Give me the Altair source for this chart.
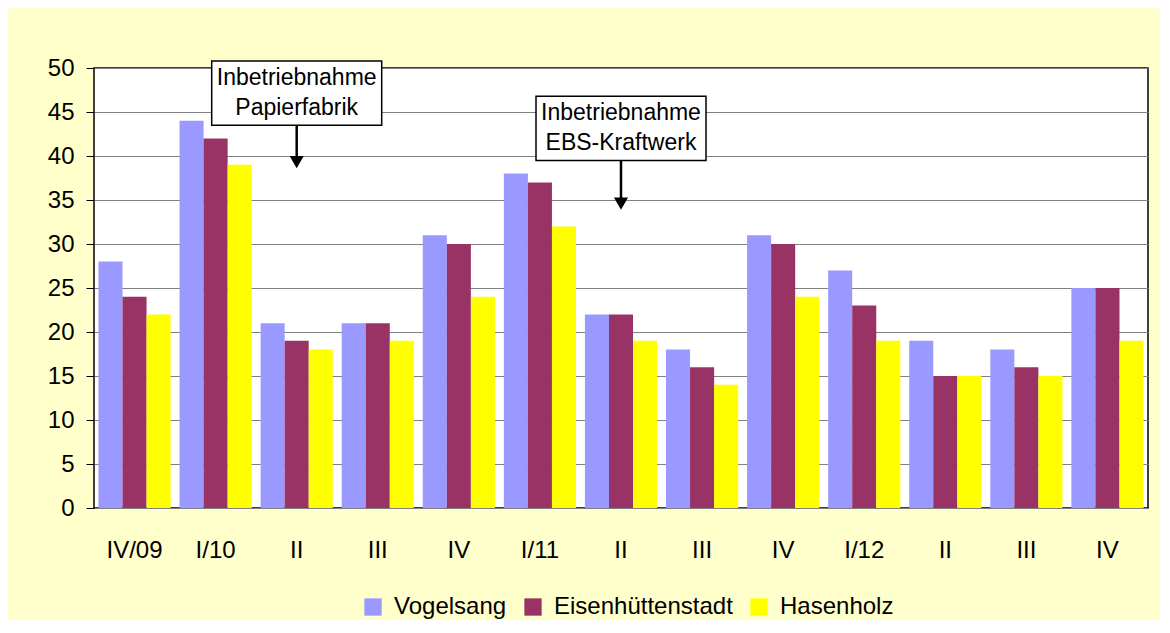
import json
import altair as alt
import pandas as pd

quarters = ["IV/09", "I/10", "II", "III", "IV", "I/11", "II", "III", "IV", "I/12", "II", "III", "IV"]
series = ["Vogelsang", "Eisenhüttenstadt", "Hasenholz"]
vogelsang = [28, 44, 21, 21, 31, 38, 22, 18, 31, 27, 19, 18, 25]
eisenhuettenstadt = [24, 42, 19, 21, 30, 37, 22, 16, 30, 23, 15, 16, 25]
hasenholz = [22, 39, 18, 19, 24, 32, 19, 14, 24, 19, 15, 15, 19]
colors = ["#9999FF", "#993366", "#FFFF00"]

# annotations: category index, text, box top/bottom, first text line, arrow tip (value units)
ann_idx = [2, 6]
ann_text = ["Inbetriebnahme\nPapierfabrik", "Inbetriebnahme\nEBS-Kraftwerk"]
ann_box_top = [50.8, 46.8]
ann_box_bottom = [43.5, 39.5]
ann_text_first = [48.9, 44.9]
ann_tip = [39.3, 34.6]

FONT = "Liberation Sans"

rows = []
for vals, name in zip([vogelsang, eisenhuettenstadt, hasenholz], series):
    for i, v in enumerate(vals):
        rows.append({"idx": i, "series": name, "value": v})
df = pd.DataFrame(rows)

ann = pd.DataFrame({
    "idx": ann_idx,
    "text": ann_text,
    "top": ann_box_top,
    "bottom": ann_box_bottom,
    "first": ann_text_first,
    "tip": ann_tip,
})

label_expr = json.dumps(quarters) + "[datum.value]"

x_enc = alt.X(
    "idx:O",
    scale=alt.Scale(paddingInner=0.11, paddingOuter=0.055),
    axis=alt.Axis(
        title=None, labelExpr=label_expr, labelAngle=0, ticks=False, domain=False,
        labelFontSize=24, labelFont=FONT, labelColor="black", labelPadding=30, grid=False,
    ),
)
y_scale = alt.Scale(domain=[0, 50], nice=False)

bars = alt.Chart(df).mark_bar(stroke=None).encode(
    x=x_enc,
    xOffset=alt.XOffset("series:N", sort=series, scale=alt.Scale(paddingInner=0, paddingOuter=0)),
    y=alt.Y(
        "value:Q", scale=y_scale,
        axis=alt.Axis(
            title=None, values=list(range(0, 51, 5)), domain=False, tickSize=8,
            tickColor="black", tickWidth=1, labelFontSize=24, labelFont=FONT,
            labelColor="black", labelPadding=12, grid=True, gridColor="#808080", gridWidth=1,
        ),
    ),
    color=alt.Color(
        "series:N", sort=series,
        scale=alt.Scale(domain=series, range=colors),
        legend=alt.Legend(
            title=None, orient="none", direction="horizontal", legendX=267, legendY=527,
            symbolType="square", symbolSize=300, symbolStrokeWidth=0, labelFontSize=24,
            labelFont=FONT, labelColor="black", labelOffset=9, columnPadding=14, labelLimit=400,
        ),
    ),
)

boxes = alt.Chart(ann).mark_bar(width=170, fill="white", stroke="black", strokeWidth=1.5).encode(
    x=alt.X("idx:O"), y=alt.Y("top:Q", scale=y_scale), y2="bottom:Q"
)
texts = alt.Chart(ann).mark_text(
    font=FONT, fontSize=23, lineHeight=30, baseline="middle", align="center",
    lineBreak="\n", color="black",
).encode(x=alt.X("idx:O"), y=alt.Y("first:Q", scale=y_scale), text="text:N")
arrows = alt.Chart(ann).mark_rule(strokeWidth=2.5, color="black").encode(
    x=alt.X("idx:O"), y=alt.Y("bottom:Q", scale=y_scale), y2="tip:Q"
)
heads = alt.Chart(ann).mark_point(shape="triangle-down", filled=True, size=200, color="black", opacity=1).encode(
    x=alt.X("idx:O"), y=alt.Y("tip:Q", scale=y_scale)
)

chart = alt.layer(bars, arrows, heads, boxes, texts).properties(
    width=1054, height=440,
    autosize=alt.AutoSizeParams(type="none"),
    padding={"left": 86, "top": 60, "right": 12, "bottom": 112},
    background="#FFFFCC",
).configure_view(fill="white", stroke="black", strokeWidth=1.5)

chart.save("out.html", embed_options={"renderer": "svg", "actions": False})
